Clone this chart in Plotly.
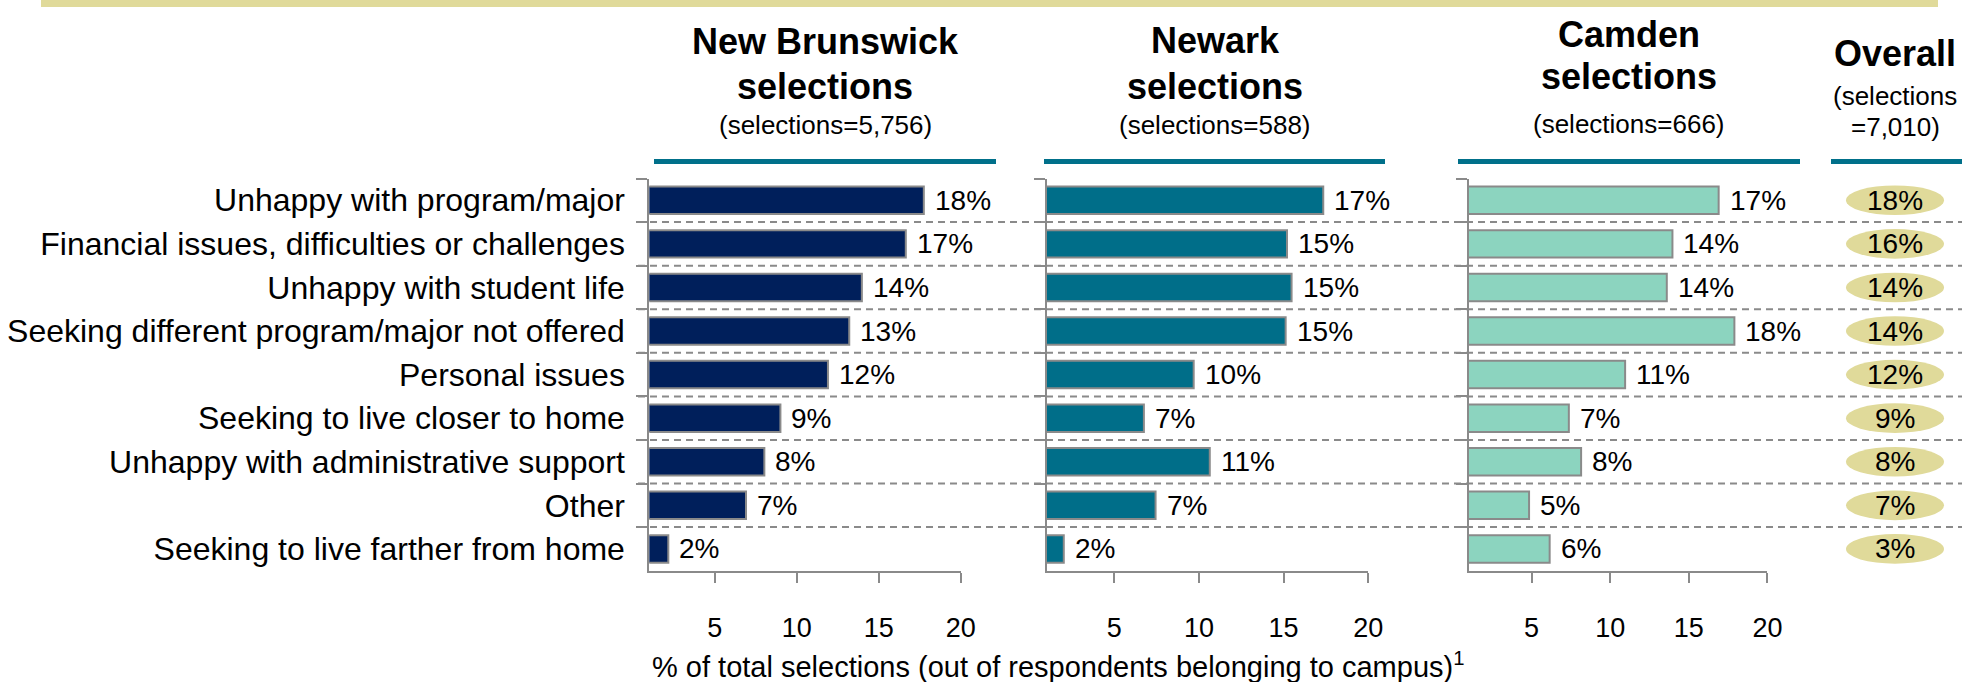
import plotly.graph_objects as go

W, H = 1962, 682

categories = [
    "Unhappy with program/major",
    "Financial issues, difficulties or challenges",
    "Unhappy with student life",
    "Seeking different program/major not offered",
    "Personal issues",
    "Seeking to live closer to home",
    "Unhappy with administrative support",
    "Other",
    "Seeking to live farther from home",
]
nb_values = [17.75, 16.65, 13.97, 13.2, 11.9, 9.0, 8.02, 6.9, 2.16]
newark_values = [17.34, 15.2, 15.47, 15.12, 9.69, 6.75, 10.64, 7.44, 2.02]
camden_values = [16.9, 13.96, 13.6, 17.9, 10.95, 7.37, 8.15, 4.84, 6.15]
overall_values = [18, 16, 14, 14, 12, 9, 8, 7, 3]
x_ticks = [5, 10, 15, 20]
panel_titles = ["New Brunswick", "Newark", "Camden"]
panel_counts = ["5,756", "588", "666"]
overall_count = "7,010"
axis_title = "% of total selections (out of respondents belonging to campus)<sup>1</sup>"

FONT = "Liberation Sans, Arial, sans-serif"
GRAY = "#8A8A8A"
TEAL_LINE = "#00708A"
KHAKI = "#E0DA9A"
bar_colors = ["#001F5B", "#006E89", "#8CD4BF"]


def px(x):
    return x / W


def py(y):
    return 1 - y / H


# layout geometry (pixels)
y_top, y_bot = 178.5, 570.7
x_domains = [(649.3, 960.7), (1046.5, 1368.3), (1468.7, 1767.4)]
title_cx = [825, 1215, 1629]
title_y = [(41.5, 86.0, 125.0), (40.5, 86.0, 125.0), (35.0, 76.0, 124.0)]
teal_segments = [(654, 996), (1044, 1385), (1458, 1800), (1831, 1962)]
overall_cx = 1895
overall_title_y = (53.0, 96.0, 127.0)

fig = go.Figure()
series = [nb_values, newark_values, camden_values]
for i, vals in enumerate(series):
    sfx = "" if i == 0 else str(i + 1)
    fig.add_trace(go.Bar(
        x=vals, y=categories, orientation="h",
        xaxis="x" + sfx, yaxis="y" + sfx,
        marker=dict(color=bar_colors[i], line=dict(color=GRAY, width=2)),
        hoverinfo="skip", showlegend=False,
    ))

layout = dict(
    width=W, height=H, autosize=False,
    margin=dict(l=0, r=0, t=0, b=0, pad=0, autoexpand=False),
    paper_bgcolor="white", plot_bgcolor="rgba(0,0,0,0)",
    bargap=0.37, showlegend=False,
    font=dict(family=FONT, color="#000000"),
)

for i in range(3):
    sfx = "" if i == 0 else str(i + 1)
    x0, x1 = x_domains[i]
    layout["xaxis" + sfx] = dict(
        domain=[px(x0), px(x1)], range=[1, 20], anchor="y" + sfx,
        tickvals=x_ticks, ticks="outside", ticklen=10, tickwidth=2, tickcolor=GRAY,
        showline=True, linecolor=GRAY, linewidth=2, showgrid=False, zeroline=False,
        tickfont=dict(size=27, family=FONT, color="#000000"), ticklabelstandoff=22,
        fixedrange=True, automargin=False,
    )
    layout["yaxis" + sfx] = dict(
        domain=[py(y_bot), py(y_top)], anchor="x" + sfx, type="category",
        categoryorder="array", categoryarray=categories, range=[8.5, -0.5],
        showline=True, linecolor=GRAY, linewidth=2, ticks="outside", tickson="boundaries",
        ticklen=11, tickwidth=2, tickcolor=GRAY, showgrid=False, zeroline=False,
        showticklabels=(i == 0), tickfont=dict(size=32, family=FONT, color="#000000"),
        ticklabelstandoff=16, fixedrange=True, automargin=False,
    )

shapes = []
annotations = []

# top khaki band
shapes.append(dict(type="rect", xref="paper", yref="paper", x0=px(41), x1=px(1938),
                   y0=py(7), y1=py(0), fillcolor=KHAKI, line=dict(width=0), layer="above"))
# teal header lines
for a, b in teal_segments:
    shapes.append(dict(type="rect", xref="paper", yref="paper", x0=px(a), x1=px(b),
                       y0=py(164), y1=py(159), fillcolor=TEAL_LINE, line=dict(width=0)))
# dashed separators
for k in range(len(categories) - 1):
    shapes.append(dict(type="line", xref="paper", yref="y", x0=px(638), x1=1,
                       y0=k + 0.5, y1=k + 0.5,
                       line=dict(color=GRAY, width=2, dash="7px,5px"), layer="above"))
# overall ellipses + values
for k, v in enumerate(overall_values):
    shapes.append(dict(type="circle", xref="paper", yref="y",
                       x0=px(overall_cx - 49), x1=px(overall_cx + 49),
                       y0=k - 0.34, y1=k + 0.34, fillcolor=KHAKI, line=dict(width=0),
                       layer="below"))
    annotations.append(dict(xref="paper", yref="y", x=px(overall_cx), y=k,
                            text=f"{v}%", showarrow=False, xanchor="center", yanchor="middle",
                            font=dict(size=28, family=FONT, color="#000000")))

# value labels
for i, vals in enumerate(series):
    sfx = "" if i == 0 else str(i + 1)
    for k, v in enumerate(vals):
        annotations.append(dict(xref="x" + sfx, yref="y" + sfx, x=v, y=k,
                                text=f"{round(v)}%", showarrow=False,
                                xanchor="left", yanchor="middle", xshift=9,
                                font=dict(size=28, family=FONT, color="#000000")))

# panel titles
for i in range(3):
    t1, t2, t3 = title_y[i]
    annotations.append(dict(xref="paper", yref="paper", x=px(title_cx[i]), y=py(t1),
                            text=f"<b>{panel_titles[i]}</b>", showarrow=False,
                            xanchor="center", yanchor="middle",
                            font=dict(size=36, family=FONT, color="#000000")))
    annotations.append(dict(xref="paper", yref="paper", x=px(title_cx[i]), y=py(t2),
                            text="<b>selections</b>", showarrow=False,
                            xanchor="center", yanchor="middle",
                            font=dict(size=36, family=FONT, color="#000000")))
    annotations.append(dict(xref="paper", yref="paper", x=px(title_cx[i]), y=py(t3),
                            text=f"(selections={panel_counts[i]})", showarrow=False,
                            xanchor="center", yanchor="middle",
                            font=dict(size=26, family=FONT, color="#000000")))
# overall header
annotations.append(dict(xref="paper", yref="paper", x=px(overall_cx), y=py(overall_title_y[0]),
                        text="<b>Overall</b>", showarrow=False, xanchor="center", yanchor="middle",
                        font=dict(size=36, family=FONT, color="#000000")))
annotations.append(dict(xref="paper", yref="paper", x=px(overall_cx), y=py(overall_title_y[1]),
                        text="(selections", showarrow=False, xanchor="center", yanchor="middle",
                        font=dict(size=26, family=FONT, color="#000000")))
annotations.append(dict(xref="paper", yref="paper", x=px(overall_cx), y=py(overall_title_y[2]),
                        text=f"={overall_count})", showarrow=False, xanchor="center", yanchor="middle",
                        font=dict(size=26, family=FONT, color="#000000")))
# x axis title
annotations.append(dict(xref="paper", yref="paper", x=px(649.5), y=py(665),
                        text=axis_title, showarrow=False, xanchor="left", yanchor="middle",
                        font=dict(size=29, family=FONT, color="#000000")))

layout["shapes"] = shapes
layout["annotations"] = annotations
fig.update_layout(**layout)
fig.write_html(
    "out.html",
    config={"displayModeBar": False},
    post_script="document.body.style.margin='0';document.body.style.overflow='hidden';",
)
